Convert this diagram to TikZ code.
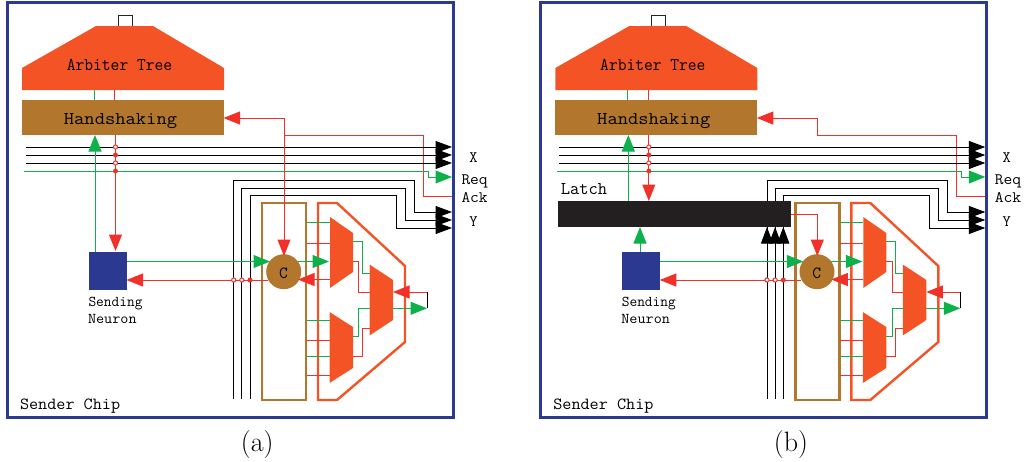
\documentclass[tikz,border=0pt]{standalone}
\usetikzlibrary{arrows.meta}
\definecolor{chipblue}{HTML}{2B3990}
\definecolor{arb}{HTML}{F45425}
\definecolor{brownish}{HTML}{B2772D}
\definecolor{redw}{HTML}{F1302A}
\definecolor{greenw}{HTML}{0DB14B}
\definecolor{latchc}{HTML}{231F20}
\newcommand{\ttsize}[1]{\ttfamily\fontsize{#1}{#1}\selectfont}
\tikzset{
  x=1pt,y=-1pt,
  wirer/.style={color=redw,line width=1pt,line join=miter},
  wireg/.style={color=greenw,line width=1pt,line join=miter},
  wirek/.style={color=black,line width=1pt,line join=miter},
  headr/.style={-{Triangle[length=16.5pt,width=13pt]}},
  headg/.style={-{Triangle[length=16.5pt,width=13pt]}},
  headk/.style={-{Triangle[length=16.5pt,width=12pt]}},
  boxn/.style={rectangle,inner sep=0pt,outer sep=0pt,line width=0pt},
  odot/.style={circle,draw=redw,fill=white,line width=1pt,inner sep=0pt,minimum size=4.2pt},
  fdot/.style={circle,fill=redw,inner sep=0pt,minimum size=5pt},
  lab/.style={inner sep=0pt,outer sep=0pt,text=black},
  muxfill/.style={fill=arb},
}
\newcommand{\commonpanel}{%
  % top loop and arbiter
  \draw[line width=1pt,draw=black!85] (118,26) -- (118,15) -- (132,15) -- (132,26);
  \fill[arb] (22,68) -- (96,26) -- (153,26) -- (224,68) -- (224,90) -- (22,90) -- cycle;
  \node[lab,anchor=base] (arblabel) at (119.5,70.7) {\ttsize{18}\scalebox{.945}[1]{Arbiter Tree}};
  \node[boxn,fill=brownish,minimum width=202pt,minimum height=34.5pt] (hs) at (122.5,117.25) {};
  \node[lab,anchor=base] (hslabel) at (120.5,124) {\ttsize{18}\scalebox{1.11}[1]{Handshaking}};
  \coordinate (arbg) at (94,90);
  \coordinate (arbr) at (114.7,90);
  \draw[wireg] (arbg) -- (arbg |- hs.north);
  \draw[wirer] (arbr) -- (arbr |- hs.north);
  % X bus
  \coordinate (xa) at (26,147); \coordinate (xb) at (26,155); \coordinate (xc) at (26,163);
  \coordinate (xat) at (452,147); \coordinate (xbt) at (452,155); \coordinate (xct) at (452,163);
  \draw[wirek,headk] (xa) -- (xat);
  \draw[wirek,headk] (xb) -- (xbt);
  \draw[wirek,headk] (xc) -- (xct);
  % Req
  \coordinate (reqs) at (24,171); \coordinate (reqt) at (452,177);
  \draw[wireg,headg] (reqs) -- (428,171) -- (428,177) -- (reqt);
  % Neuron
  \node[boxn,fill=chipblue,minimum width=37.5pt,minimum height=38pt] (neuron) at (107.75,270.5) {};
  \node[lab,anchor=base west] (sendlabel) at (88.5,306.7) {\ttsize{15}Sending};
  \node[lab,anchor=base west] (neurlabel) at (88,323.3) {\ttsize{15}\scalebox{1.05}[1]{Neuron}};
  % Brown box and outline
  \node[boxn,draw=brownish,line width=2.4pt,minimum width=44pt,minimum height=197pt] (bbox) at (284,301.25) {};
  \draw[draw=arb,line width=2.4pt,line join=miter] (318,203) -- (337,203) -- (405,266) -- (405,342) -- (337,400) -- (318,400) -- cycle;
  % wires inside
  \draw[wireg] (307,222) -- (330,222);
  \draw[wirer] (307,243) -- (330,243);
  \draw[wireg] (307,320.7) -- (330,320.7);
  \draw[wirer] (307,340.3) -- (330,340.3);
  \draw[wireg] (307,356) -- (330,356);
  \draw[wirer] (307,375) -- (330,375);
  \draw[wireg] (353,241.7) -- (362.3,241.7) -- (362.3,273) -- (370,273);
  \draw[wirer] (353,261.3) -- (358.7,261.3) -- (358.7,292.7) -- (370,292.7);
  \draw[wireg] (353,336.7) -- (358.7,336.7) -- (358.7,308.3) -- (370,308.3);
  \draw[wirer] (353,356) -- (362.3,356) -- (362.3,328.3) -- (370,328.3);
  % muxes
  \fill[muxfill] (330,217) -- (353,233) -- (353,272) -- (330,288) -- cycle;
  \fill[muxfill] (329.5,312) -- (353,327) -- (353,368) -- (329.5,383) -- cycle;
  \fill[muxfill] (369.5,264.5) -- (393,280) -- (393,320) -- (369.5,335.5) -- cycle;
  % feedback
  \coordinate (fbr) at (427,292); \coordinate (fbg) at (427,308.3);
  \draw[wirer,headr] (fbr) -- (393,292);
  \draw[wireg,headg] (393,308.3) -- (fbg);
  \draw[wirek] (fbr) -- (fbg);
  % C element
  \node[circle,fill=brownish,inner sep=0pt,minimum size=35pt] (cc) at (283.7,271.7) {};
  \node[lab,anchor=base] (cclabel) at (283.5,278) {\ttsize{17}C};
  \draw[wireg,headg] (neuron.east |- 0,261.5) -- (270,261.5);
  \draw[wireg,headg] (298,261.5) -- (329,261.5);
  \draw[wirer,headr] (330,279.5) -- (298,279.5);
  \draw[wirer,headr] (268,280) -- (neuron.east |- 0,280);
  \node[odot] (ya) at (233.7,280) {};
  \node[odot] (yb) at (241.8,280) {};
  \node[fdot] (yc) at (250,280) {};
  % labels
  \node[lab,anchor=base] (xl) at (473.5,162) {\ttsize{16}X};
  \node[lab,anchor=base west] (rl) at (461.5,184) {\ttsize{16}\scalebox{1.06}[1]{Req}};
  \node[lab,anchor=base west] (al) at (461.5,202.7) {\ttsize{16}\scalebox{1.06}[1]{Ack}};
  \node[lab,anchor=base] (yl) at (473.5,226) {\ttsize{16}Y};
  \node[lab,anchor=base west] (sc) at (20,409) {\ttsize{17}\scalebox{1.04}[1]{Sender Chip}};
  % frame
  \node[boxn,draw=chipblue,line width=3pt,minimum width=446.5pt,minimum height=415.5pt] (frame) at (230.3,210) {};
}
\begin{document}
\begin{tikzpicture}
\useasboundingbox (0,0) rectangle (1024,461);
\begin{scope}[name prefix=a-]
  % Y bus wires
  \draw[wirek,headk] (233.7,399) -- (233.7,180) -- (414,180) -- (414,212) -- (452,212);
  \draw[wirek,headk] (241.8,399) -- (241.8,188) -- (405,188) -- (405,220) -- (452,220);
  \draw[wirek,headk] (250,399) -- (250,195) -- (396,195) -- (396,228) -- (452,228);
  % Ack and handshake return
  \coordinate (ackt) at (452,196.5);
  \draw[wirer] (284,135) -- (423,135) -- (423,196.5) -- (ackt);
  \commonpanel
  \draw[wirer,headr] (284,118) -- (hs.east |- 0,118);
  \draw[wirer,headr] (284,118) -- (284,256);
  % neuron links
  \draw[wireg,headg] (neuron.north -| 95,0) -- (95,135);
  \draw[wirer,headr] (115.5,135) -- (115.5,251);
  \node[odot] (d1) at (115.5,147) {};
  \node[fdot] (d2) at (115.5,155) {};
  \node[odot] (d3) at (115.5,163) {};
  \node[fdot] (d4) at (115.5,171) {};
  \node[lab,anchor=base] (cap) at (257.3,451) {\fontsize{28}{28}\selectfont (a)};
\end{scope}
\begin{scope}[name prefix=b-,xshift=533.3pt]
  % Y bus wires above latch
  \draw[wirek,headk] (233.7,201) -- (233.7,180) -- (414,180) -- (414,212) -- (452,212);
  \draw[wirek,headk] (241.8,201) -- (241.8,188) -- (405,188) -- (405,220) -- (452,220);
  \draw[wirek,headk] (250,201) -- (250,195) -- (396,195) -- (396,228) -- (452,228);
  \coordinate (ackt) at (452,196.5);
  \draw[wirer] (284.5,118) -- (284.5,135) -- (423.5,135) -- (423.5,196.5) -- (ackt);
  \draw[wirek] (233.7,399) -- (233.7,227);
  \draw[wirek] (241.8,399) -- (241.8,227);
  \draw[wirek] (250,399) -- (250,227);
  \commonpanel
  \draw[wirer,headr] (284.5,118) -- (hs.east |- 0,118);
  \node[boxn,fill=latchc,minimum width=233pt,minimum height=26pt] (latch) at (140.7,214) {};
  \node[lab,anchor=base west] (latchl) at (27.5,194) {\ttsize{18}Latch};
  \draw[wirek,headk] (233.7,243) -- (233.7,227);
  \draw[wirek,headk] (241.8,243) -- (241.8,227);
  \draw[wirek,headk] (250,243) -- (250,227);
  \draw[wirer,headr] (latch.east |- 0,214.5) -- (284,214.5) -- (284,256);
  \draw[wireg,headg] (95,201) -- (95,135);
  \draw[wirer,headr] (115.5,135) -- (115.5,201);
  \draw[wireg,headg] (neuron.north -| 106.7,0) -- (106.7,227);
  \node[odot] (d1) at (115.5,147) {};
  \node[fdot] (d2) at (115.5,155) {};
  \node[odot] (d3) at (115.5,163) {};
  \node[fdot] (d4) at (115.5,171) {};
  \node[lab,anchor=base] (cap) at (257.7,451) {\fontsize{28}{28}\selectfont (b)};
\end{scope}
\end{tikzpicture}
\end{document}
